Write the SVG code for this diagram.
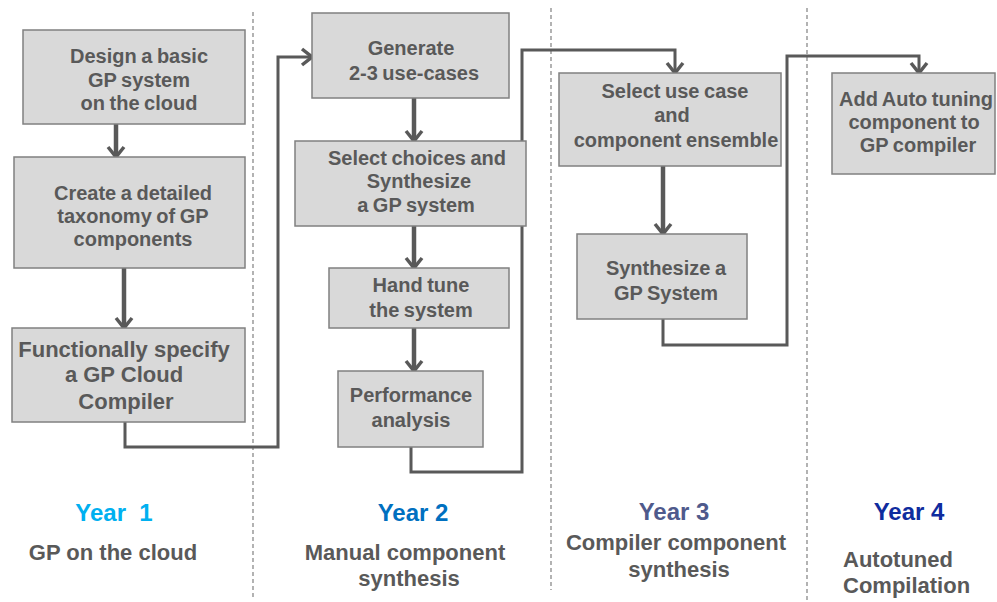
<svg xmlns="http://www.w3.org/2000/svg" width="997" height="602" viewBox="0 0 997 602">
<style>
.box{fill:#D9D9D9;stroke:#808080;stroke-width:1.5}
.t{font-family:"Liberation Sans",Arial,sans-serif;font-weight:bold;font-size:20px;fill:#595959;text-anchor:middle;word-spacing:-1px}
.big{font-size:22px;word-spacing:0}
.yr{font-family:"Liberation Sans",Arial,sans-serif;font-weight:bold;font-size:24px;text-anchor:middle}
.sub{font-family:"Liberation Sans",Arial,sans-serif;font-weight:bold;font-size:22px;fill:#595959;text-anchor:middle}
.div{stroke:#808080;stroke-width:1.2;stroke-dasharray:4 3;fill:none}
.arr{stroke:#595959;stroke-width:4.5;fill:none;marker-end:url(#ah)}
.con{stroke:#595959;stroke-width:3;fill:none;marker-end:url(#ah)}
</style>
<defs>
<marker id="ah" markerUnits="userSpaceOnUse" viewBox="0 0 14 20" refX="12" refY="10" markerWidth="14" markerHeight="20" orient="auto">
<path d="M2,2 L12,10 L2,18" fill="none" stroke="#595959" stroke-width="3.5"/>
</marker>
</defs>
<rect width="997" height="602" fill="#fff"/>
<g id="dividers">
<line class="div" x1="253" y1="12" x2="253" y2="600"/>
<line class="div" x1="551" y1="8" x2="551" y2="590"/>
<line class="div" x1="807" y1="8" x2="807" y2="600"/>
</g>
<g id="connectors">
<line class="arr" x1="116" y1="124" x2="116" y2="157"/>
<line class="arr" x1="124" y1="268" x2="124" y2="328"/>
<path class="con" d="M125,422 V447 H278 V57 H312"/>
<line class="arr" x1="414" y1="98" x2="414" y2="141"/>
<line class="arr" x1="414" y1="226" x2="414" y2="268"/>
<line class="arr" x1="414" y1="328" x2="414" y2="371"/>
<path class="con" d="M411,447 V472 H522 V50 H675 V73"/>
<line class="arr" x1="663" y1="166" x2="663" y2="234"/>
<path class="con" d="M663,319 V345 H787 V56 H919 V73"/>
</g>
<g id="n1"><rect class="box" x="23" y="30" width="222" height="94"/>
<text class="t" x="139" y="63">Design a basic</text><text class="t" x="139" y="87">GP system</text><text class="t" x="139" y="110">on the cloud</text></g>
<g id="n2"><rect class="box" x="14" y="157" width="231" height="111"/>
<text class="t" x="133" y="200">Create a detailed</text><text class="t" x="133" y="223">taxonomy of GP</text><text class="t" x="133" y="246">components</text></g>
<g id="n3"><rect class="box" x="12" y="328" width="233" height="94"/>
<text class="t big" x="124" y="357">Functionally specify</text><text class="t big" x="124" y="382">a GP Cloud</text><text class="t big" x="126" y="409">Compiler</text></g>
<g id="n4"><rect class="box" x="312" y="13" width="197" height="85"/>
<text class="t" x="411" y="55">Generate</text><text class="t" x="414" y="80">2-3 use-cases</text></g>
<g id="n5"><rect class="box" x="295" y="141" width="231" height="85"/>
<text class="t" x="417" y="165">Select choices and</text><text class="t" x="419" y="188">Synthesize</text><text class="t" x="416" y="212">a GP system</text></g>
<g id="n6"><rect class="box" x="329" y="268" width="180" height="60"/>
<text class="t" x="421" y="292">Hand tune</text><text class="t" x="421" y="317">the system</text></g>
<g id="n7"><rect class="box" x="338" y="371" width="145" height="76"/>
<text class="t" x="411" y="402">Performance</text><text class="t" x="411" y="427">analysis</text></g>
<g id="n8"><rect class="box" x="559" y="73" width="222" height="93"/>
<text class="t" x="675" y="98">Select use case</text><text class="t" x="672" y="122">and</text><text class="t" x="676" y="147">component ensemble</text></g>
<g id="n9"><rect class="box" x="577" y="234" width="170" height="85"/>
<text class="t" x="666" y="275">Synthesize a</text><text class="t" x="666" y="300">GP System</text></g>
<g id="n10"><rect class="box" x="832" y="73" width="163" height="101"/>
<text class="t" x="916" y="106">Add Auto tuning</text><text class="t" x="914" y="129">component to</text><text class="t" x="918" y="152">GP compiler</text></g>
<g id="years">
<text class="yr" x="114" y="521" fill="#00B0F0" xml:space="preserve">Year  1</text>
<text class="yr" x="413" y="521" fill="#0070C0">Year 2</text>
<text class="yr" x="674" y="520" fill="#4F5A8C">Year 3</text>
<text class="yr" x="909" y="520" fill="#0F2C9E">Year 4</text>
<text class="sub" x="113" y="560">GP on the cloud</text>
<text class="sub" x="405" y="560">Manual component</text>
<text class="sub" x="409" y="586">synthesis</text>
<text class="sub" x="676" y="550">Compiler component</text>
<text class="sub" x="679" y="577">synthesis</text>
<text class="sub" x="843" y="567" style="text-anchor:start">Autotuned</text>
<text class="sub" x="843" y="593" style="text-anchor:start">Compilation</text>
</g>
</svg>
